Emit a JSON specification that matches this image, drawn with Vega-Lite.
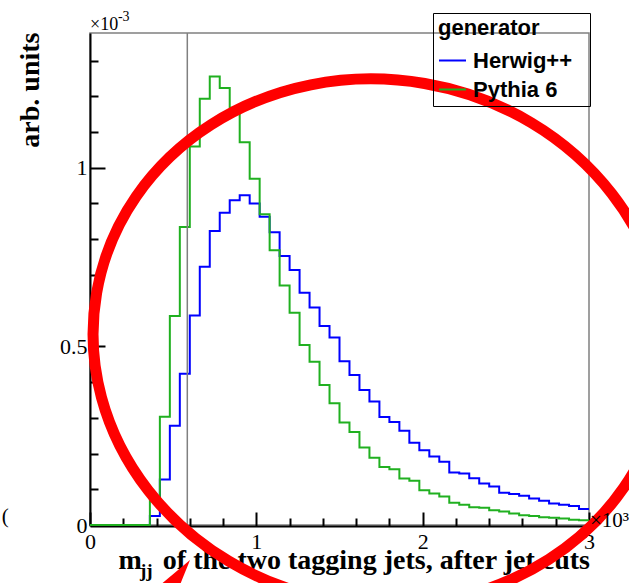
{
  "$schema": "https://vega.github.io/schema/vega-lite/v6.json",
  "width": 499,
  "height": 492,
  "autosize": {"type": "none"},
  "padding": {"left": 90, "top": 33, "right": 40, "bottom": 58},
  "background": "white",
  "config": {
    "view": {"stroke": "#808080", "strokeWidth": 1.5},
    "axis": {
      "grid": false, "domainColor": "black", "domainWidth": 2, "tickColor": "black", "tickWidth": 2,
      "labelColor": "black", "labelFont": "Liberation Serif", "labelFontSize": 22, "labelFlush": false, "labelOverlap": false,
      "titleColor": "black", "titleFont": "Liberation Serif", "titleFontWeight": "bold", "titleFontSize": 28
    },
    "text": {"font": "Liberation Serif", "color": "black"}
  },
  "datasets": {
    "hist": [
      {"series": "Herwig++", "x": 0.00, "y": 0},
      {"series": "Herwig++", "x": 0.36, "y": 0.025},
      {"series": "Herwig++", "x": 0.42, "y": 0.127},
      {"series": "Herwig++", "x": 0.48, "y": 0.278},
      {"series": "Herwig++", "x": 0.54, "y": 0.423},
      {"series": "Herwig++", "x": 0.60, "y": 0.586},
      {"series": "Herwig++", "x": 0.66, "y": 0.723},
      {"series": "Herwig++", "x": 0.72, "y": 0.823},
      {"series": "Herwig++", "x": 0.78, "y": 0.874},
      {"series": "Herwig++", "x": 0.84, "y": 0.909},
      {"series": "Herwig++", "x": 0.90, "y": 0.923},
      {"series": "Herwig++", "x": 0.96, "y": 0.900},
      {"series": "Herwig++", "x": 1.02, "y": 0.863},
      {"series": "Herwig++", "x": 1.08, "y": 0.819},
      {"series": "Herwig++", "x": 1.14, "y": 0.753},
      {"series": "Herwig++", "x": 1.20, "y": 0.714},
      {"series": "Herwig++", "x": 1.26, "y": 0.650},
      {"series": "Herwig++", "x": 1.32, "y": 0.609},
      {"series": "Herwig++", "x": 1.38, "y": 0.557},
      {"series": "Herwig++", "x": 1.44, "y": 0.525},
      {"series": "Herwig++", "x": 1.50, "y": 0.458},
      {"series": "Herwig++", "x": 1.56, "y": 0.420},
      {"series": "Herwig++", "x": 1.62, "y": 0.378},
      {"series": "Herwig++", "x": 1.68, "y": 0.346},
      {"series": "Herwig++", "x": 1.74, "y": 0.302},
      {"series": "Herwig++", "x": 1.80, "y": 0.288},
      {"series": "Herwig++", "x": 1.86, "y": 0.264},
      {"series": "Herwig++", "x": 1.92, "y": 0.230},
      {"series": "Herwig++", "x": 1.98, "y": 0.209},
      {"series": "Herwig++", "x": 2.04, "y": 0.192},
      {"series": "Herwig++", "x": 2.10, "y": 0.177},
      {"series": "Herwig++", "x": 2.16, "y": 0.147},
      {"series": "Herwig++", "x": 2.22, "y": 0.144},
      {"series": "Herwig++", "x": 2.28, "y": 0.131},
      {"series": "Herwig++", "x": 2.34, "y": 0.116},
      {"series": "Herwig++", "x": 2.40, "y": 0.108},
      {"series": "Herwig++", "x": 2.46, "y": 0.090},
      {"series": "Herwig++", "x": 2.52, "y": 0.087},
      {"series": "Herwig++", "x": 2.58, "y": 0.082},
      {"series": "Herwig++", "x": 2.64, "y": 0.074},
      {"series": "Herwig++", "x": 2.70, "y": 0.068},
      {"series": "Herwig++", "x": 2.76, "y": 0.060},
      {"series": "Herwig++", "x": 2.82, "y": 0.057},
      {"series": "Herwig++", "x": 2.88, "y": 0.053},
      {"series": "Herwig++", "x": 2.94, "y": 0.045},
      {"series": "Herwig++", "x": 3.00, "y": 0.045},
      {"series": "Pythia 6", "x": 0.00, "y": 0},
      {"series": "Pythia 6", "x": 0.36, "y": 0.069},
      {"series": "Pythia 6", "x": 0.42, "y": 0.303},
      {"series": "Pythia 6", "x": 0.48, "y": 0.585},
      {"series": "Pythia 6", "x": 0.54, "y": 0.834},
      {"series": "Pythia 6", "x": 0.60, "y": 1.059},
      {"series": "Pythia 6", "x": 0.66, "y": 1.193},
      {"series": "Pythia 6", "x": 0.72, "y": 1.255},
      {"series": "Pythia 6", "x": 0.78, "y": 1.223},
      {"series": "Pythia 6", "x": 0.84, "y": 1.168},
      {"series": "Pythia 6", "x": 0.90, "y": 1.071},
      {"series": "Pythia 6", "x": 0.96, "y": 0.969},
      {"series": "Pythia 6", "x": 1.02, "y": 0.870},
      {"series": "Pythia 6", "x": 1.08, "y": 0.769},
      {"series": "Pythia 6", "x": 1.14, "y": 0.670},
      {"series": "Pythia 6", "x": 1.20, "y": 0.594},
      {"series": "Pythia 6", "x": 1.26, "y": 0.504},
      {"series": "Pythia 6", "x": 1.32, "y": 0.457},
      {"series": "Pythia 6", "x": 1.38, "y": 0.392},
      {"series": "Pythia 6", "x": 1.44, "y": 0.341},
      {"series": "Pythia 6", "x": 1.50, "y": 0.287},
      {"series": "Pythia 6", "x": 1.56, "y": 0.260},
      {"series": "Pythia 6", "x": 1.62, "y": 0.217},
      {"series": "Pythia 6", "x": 1.68, "y": 0.188},
      {"series": "Pythia 6", "x": 1.74, "y": 0.162},
      {"series": "Pythia 6", "x": 1.80, "y": 0.156},
      {"series": "Pythia 6", "x": 1.86, "y": 0.130},
      {"series": "Pythia 6", "x": 1.92, "y": 0.124},
      {"series": "Pythia 6", "x": 1.98, "y": 0.097},
      {"series": "Pythia 6", "x": 2.04, "y": 0.088},
      {"series": "Pythia 6", "x": 2.10, "y": 0.080},
      {"series": "Pythia 6", "x": 2.16, "y": 0.062},
      {"series": "Pythia 6", "x": 2.22, "y": 0.057},
      {"series": "Pythia 6", "x": 2.28, "y": 0.050},
      {"series": "Pythia 6", "x": 2.34, "y": 0.048},
      {"series": "Pythia 6", "x": 2.40, "y": 0.041},
      {"series": "Pythia 6", "x": 2.46, "y": 0.038},
      {"series": "Pythia 6", "x": 2.52, "y": 0.032},
      {"series": "Pythia 6", "x": 2.58, "y": 0.027},
      {"series": "Pythia 6", "x": 2.64, "y": 0.025},
      {"series": "Pythia 6", "x": 2.70, "y": 0.022},
      {"series": "Pythia 6", "x": 2.76, "y": 0.020},
      {"series": "Pythia 6", "x": 2.82, "y": 0.018},
      {"series": "Pythia 6", "x": 2.88, "y": 0.015},
      {"series": "Pythia 6", "x": 2.94, "y": 0.013},
      {"series": "Pythia 6", "x": 3.00, "y": 0.013}
    ]
  },
  "layer": [
    {
      "data": {"name": "hist"},
      "mark": {"type": "line", "interpolate": "step-after", "strokeWidth": 2},
      "encoding": {
        "x": {
          "field": "x", "type": "quantitative",
          "scale": {"domain": [0, 3], "nice": false, "zero": false},
          "axis": {
            "orient": "bottom", "offset": 1, "values": [0, 1, 2, 3], "format": "~g", "tickSize": -14, "labelPadding": 19,
            "title": "m\u00a0\u00a0\u00a0of the two tagging jets, after jet cuts",
            "titleAlign": "left", "titleX": 28, "titleY": 42, "titleBaseline": "alphabetic"
          }
        },
        "y": {
          "field": "y", "type": "quantitative",
          "scale": {"domain": [0, 1.377], "nice": false, "zero": false},
          "axis": {
            "orient": "left", "values": [0, 0.5, 1], "format": "~g", "tickSize": -15, "labelPadding": 18,
            "title": "arb. units", "titleAngle": 270, "titleAlign": "right", "titleX": -52, "titleY": -1, "titleBaseline": "alphabetic"
          }
        },
        "color": {
          "field": "series", "type": "nominal",
          "scale": {"domain": ["Herwig++", "Pythia 6"], "range": ["#0000ff", "#20b020"]},
          "legend": {
            "title": "generator", "orient": "none", "legendX": 343, "legendY": -20, "direction": "vertical",
            "padding": 5, "strokeColor": "black", "cornerRadius": 0,
            "titleFont": "Liberation Sans", "titleFontSize": 22, "titleFontWeight": "bold", "titleColor": "black", "titlePadding": 6,
            "labelFont": "Liberation Sans", "labelFontSize": 22, "labelFontWeight": "bold", "labelColor": "black", "labelOffset": 6,
            "symbolType": "stroke", "symbolSize": 729, "symbolStrokeWidth": 2, "rowPadding": 3,
            "labelExpr": "datum.label + '\u00a0\u00a0\u200b'"
          }
        }
      }
    },
    {
      "data": {"values": [{"x": 0.585}]},
      "mark": {"type": "rule", "color": "#808080", "strokeWidth": 1.5},
      "encoding": {
        "x": {
          "field": "x", "type": "quantitative",
          "scale": {"domain": [0, 3], "nice": false, "zero": false},
          "axis": {"orient": "bottom", "offset": 1, "values": [0.2, 0.4, 0.6, 0.8, 1.2, 1.4, 1.6, 1.8, 2.2, 2.4, 2.6, 2.8], "tickSize": -8, "labels": false, "domain": false, "title": null}
        }
      }
    },
    {
      "data": {"values": [{"x": 1.7435, "y": 0.5122}]},
      "mark": {"type": "point", "shape": "M -1 0 A 1 0.912 0 1 1 1 0 A 1 0.912 0 1 1 -1 0 Z", "filled": false, "color": "#ff0000", "opacity": 1, "strokeWidth": 11, "size": 330855, "angle": 9.8},
      "encoding": {
        "x": {"field": "x", "type": "quantitative", "scale": {"domain": [0, 3], "nice": false, "zero": false}, "axis": null},
        "y": {
          "field": "y", "type": "quantitative",
          "scale": {"domain": [0, 1.377], "nice": false, "zero": false},
          "axis": {"orient": "left", "values": [0.1, 0.2, 0.3, 0.4, 0.6, 0.7, 0.8, 0.9, 1.1, 1.2, 1.3], "tickSize": -8, "labels": false, "domain": false, "title": null}
        }
      }
    },
    {
      "data": {"values": [{"t": "×10", "x": 0, "y": 1.385}]},
      "mark": {"type": "text", "align": "left", "baseline": "alphabetic", "fontSize": 18},
      "encoding": {
        "x": {"field": "x", "type": "quantitative", "scale": {"domain": [0, 3], "nice": false, "zero": false}, "axis": null},
        "y": {"field": "y", "type": "quantitative", "scale": {"domain": [0, 1.377], "nice": false, "zero": false}, "axis": null},
        "text": {"field": "t"}
      }
    },
    {
      "data": {"values": [{"t": "-3", "x": 0.168, "y": 1.411}]},
      "mark": {"type": "text", "align": "left", "baseline": "alphabetic", "fontSize": 14},
      "encoding": {
        "x": {"field": "x", "type": "quantitative", "scale": {"domain": [0, 3], "nice": false, "zero": false}, "axis": null},
        "y": {"field": "y", "type": "quantitative", "scale": {"domain": [0, 1.377], "nice": false, "zero": false}, "axis": null},
        "text": {"field": "t"}
      }
    },
    {
      "data": {"values": [{"t": "jj", "x": 0.3006, "y": -0.1455}]},
      "mark": {"type": "text", "align": "left", "baseline": "alphabetic", "fontSize": 19, "fontWeight": "bold"},
      "encoding": {
        "x": {"field": "x", "type": "quantitative", "scale": {"domain": [0, 3], "nice": false, "zero": false}, "axis": null},
        "y": {"field": "y", "type": "quantitative", "scale": {"domain": [0, 1.377], "nice": false, "zero": false}, "axis": null},
        "text": {"field": "t"}
      }
    },
    {
      "data": {"values": [{"t": "×10³", "x": 3.006, "y": -0.0056}, {"t": "(", "x": -0.531, "y": 0.0056}]},
      "mark": {"type": "text", "align": "left", "baseline": "alphabetic", "fontSize": 21},
      "encoding": {
        "x": {"field": "x", "type": "quantitative", "scale": {"domain": [0, 3], "nice": false, "zero": false}, "axis": null},
        "y": {"field": "y", "type": "quantitative", "scale": {"domain": [0, 1.377], "nice": false, "zero": false}, "axis": null},
        "text": {"field": "t"}
      }
    },
    {
      "data": {"values": [{"x": 0.513, "y": -0.1545}]},
      "mark": {"type": "point", "shape": "M 0 -1 L 0.5 1 L -0.5 1 Z", "filled": true, "color": "#ff0000", "opacity": 1, "size": 2500, "angle": 36},
      "encoding": {
        "x": {"field": "x", "type": "quantitative", "scale": {"domain": [0, 3], "nice": false, "zero": false}, "axis": null},
        "y": {"field": "y", "type": "quantitative", "scale": {"domain": [0, 1.377], "nice": false, "zero": false}, "axis": null}
      }
    }
  ],
  "resolve": {"axis": {"x": "independent", "y": "independent"}}
}
